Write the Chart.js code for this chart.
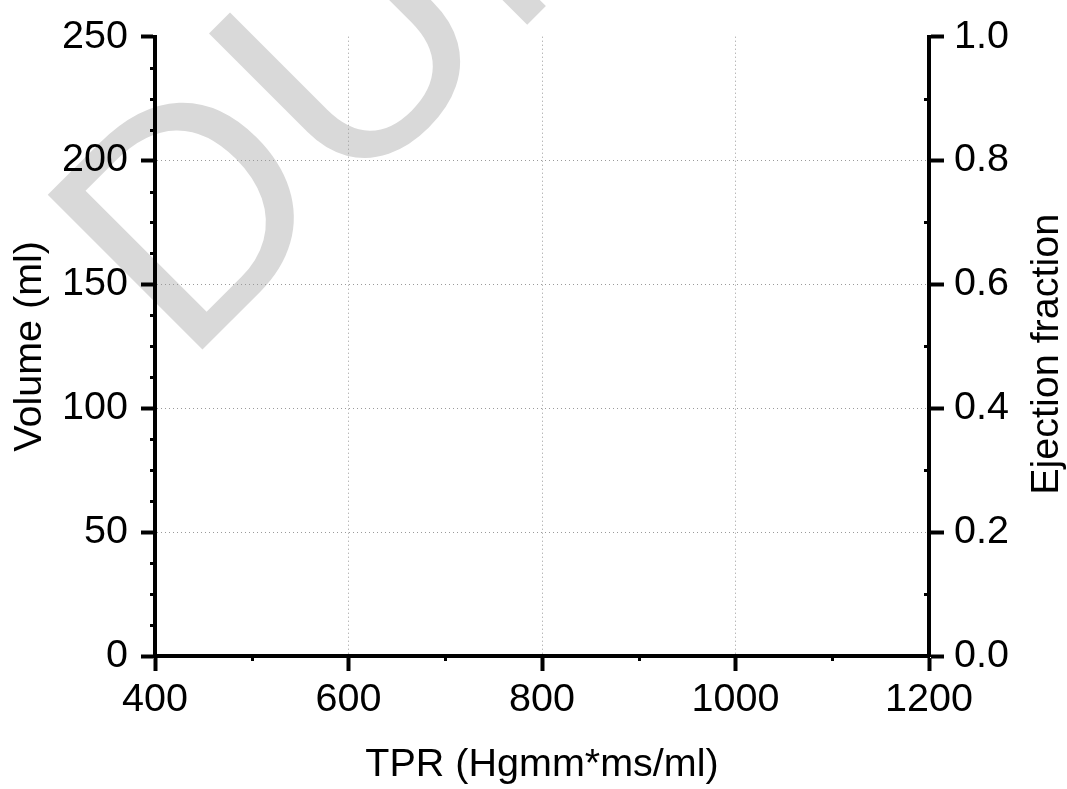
<!DOCTYPE html>
<html><head><meta charset="utf-8">
<script src="https://cdn.jsdelivr.net/npm/chart.js@4.4.1/dist/chart.umd.min.js"></script>
<style>html,body{margin:0;padding:0;background:#fff;overflow:hidden;}</style>
</head><body>
<canvas id="c" width="1067" height="789"></canvas>
<script>
// ---- data (the reference chart has axes only, no plotted series) ----
const xTicks = [400, 600, 800, 1000, 1200];
const xMinor = [500, 700, 900, 1100];
const yTicks = [0, 50, 100, 150, 200, 250];
const yMinor = [12.5, 25, 37.5, 62.5, 75, 87.5, 112.5, 125, 137.5, 162.5, 175, 187.5, 212.5, 225, 237.5];
const y2Ticks = [0, 0.2, 0.4, 0.6, 0.8, 1.0];
const y2Minor = [0.1, 0.3, 0.5, 0.7, 0.9];
const volumeValues = [];
const efValues = [];
const xTitle = 'TPR (Hgmm*ms/ml)';
const yTitle = 'Volume (ml)';
const y2Title = 'Ejection fraction';
const watermark = 'DUMMY';

const FONT = '"Liberation Sans", Arial, Helvetica, sans-serif';
const FS = 39.5;
const fontMain = {family: FONT, size: FS};
const gridCol = '#9a9a9a';

const bgAndWatermark = {
  id: 'bgwm',
  beforeDraw(chart) {
    const ctx = chart.ctx;
    ctx.save();
    ctx.fillStyle = '#fff';
    ctx.fillRect(0, 0, chart.width, chart.height);
    ctx.translate(184, 368);
    ctx.rotate(-Math.PI / 4);
    ctx.font = '318px ' + FONT;
    ctx.fillStyle = '#d9d9d9';
    ctx.textBaseline = 'alphabetic';
    ctx.textAlign = 'left';
    ctx.fillText(watermark, 0, 0);
    ctx.restore();
  }
};

const minorAndTitle = {
  id: 'minor',
  afterDraw(chart) {
    const ctx = chart.ctx;
    const {x, y, y1} = chart.scales;
    const ca = chart.chartArea;
    ctx.save();
    ctx.strokeStyle = '#000';
    ctx.lineWidth = 3;
    ctx.beginPath();
    xMinor.forEach(v => { const p = Math.round(x.getPixelForValue(v)) + 0.5; ctx.moveTo(p, ca.bottom); ctx.lineTo(p, ca.bottom + 5); });
    yMinor.forEach(v => { const p = Math.round(y.getPixelForValue(v)) + 0.5; ctx.moveTo(ca.left, p); ctx.lineTo(ca.left - 5, p); });
    y2Minor.forEach(v => { const p = Math.round(y1.getPixelForValue(v)) + 0.5; ctx.moveTo(ca.right, p); ctx.lineTo(ca.right - 5, p); });
    ctx.stroke();
    // right axis title, reading bottom-to-top
    ctx.font = FS + 'px ' + FONT;
    ctx.fillStyle = '#000';
    ctx.textAlign = 'center';
    ctx.textBaseline = 'middle';
    ctx.translate(y1.right - 20, (ca.top + ca.bottom) / 2 + 8);
    ctx.rotate(-Math.PI / 2);
    ctx.fillText(y2Title, 0, 0);
    ctx.restore();
  }
};

new Chart(document.getElementById('c'), {
  type: 'scatter',
  data: {
    datasets: [
      {label: 'Volume', data: volumeValues, yAxisID: 'y'},
      {label: 'Ejection fraction', data: efValues, yAxisID: 'y1'}
    ]
  },
  options: {
    responsive: false,
    animation: false,
    devicePixelRatio: 1,
    layout: {padding: {top: 31, left: 0, right: 0, bottom: 0}},
    plugins: {legend: {display: false}, tooltip: {enabled: false}},
    scales: {
      x: {
        type: 'linear', position: 'bottom', min: 400, max: 1200,
        afterBuildTicks: s => { s.ticks = xTicks.map(v => ({value: v})); },
        afterFit: s => { s.height = 133; },
        grid: {
          color: c => (c.tick && (c.tick.value === 400 || c.tick.value === 1200)) ? 'rgba(0,0,0,0)' : gridCol,
          lineWidth: 1, tickLength: 15, tickWidth: 4, tickColor: '#000', drawTicks: true
        },
        border: {display: true, color: '#000', width: 4, dash: c => c.tick ? [1, 3] : []},
        ticks: {font: fontMain, color: '#000', padding: 5, maxRotation: 0, autoSkip: false, callback: v => String(v)},
        title: {display: true, text: xTitle, font: fontMain, color: '#000', padding: {top: 0, bottom: 0}}
      },
      y: {
        type: 'linear', position: 'left', min: 0, max: 250,
        afterBuildTicks: s => { s.ticks = yTicks.map(v => ({value: v})); },
        afterFit: s => { s.width = 155; },
        grid: {
          color: c => (c.tick && (c.tick.value === 0 || c.tick.value === 250)) ? 'rgba(0,0,0,0)' : gridCol,
          lineWidth: 1, tickLength: 14, tickWidth: 4, tickColor: '#000', drawTicks: true
        },
        border: {display: true, color: '#000', width: 4, dash: c => c.tick ? [1, 3] : []},
        ticks: {font: fontMain, color: '#000', padding: 13, autoSkip: false, callback: v => String(v)},
        title: {display: true, text: yTitle, font: fontMain, color: '#000', padding: {top: 6, bottom: 0}}
      },
      y1: {
        type: 'linear', position: 'right', min: 0, max: 1,
        afterBuildTicks: s => { s.ticks = y2Ticks.map(v => ({value: v})); },
        afterFit: s => { s.width = 138; },
        grid: {
          drawOnChartArea: false, color: gridCol,
          lineWidth: 1, tickLength: 15, tickWidth: 4, tickColor: '#000', drawTicks: true
        },
        border: {display: true, color: '#000', width: 4},
        ticks: {font: fontMain, color: '#000', padding: 10, autoSkip: false, callback: v => Number(v).toFixed(1)},
        title: {display: false}
      }
    }
  },
  plugins: [bgAndWatermark, minorAndTitle]
});
</script>
</body></html>
